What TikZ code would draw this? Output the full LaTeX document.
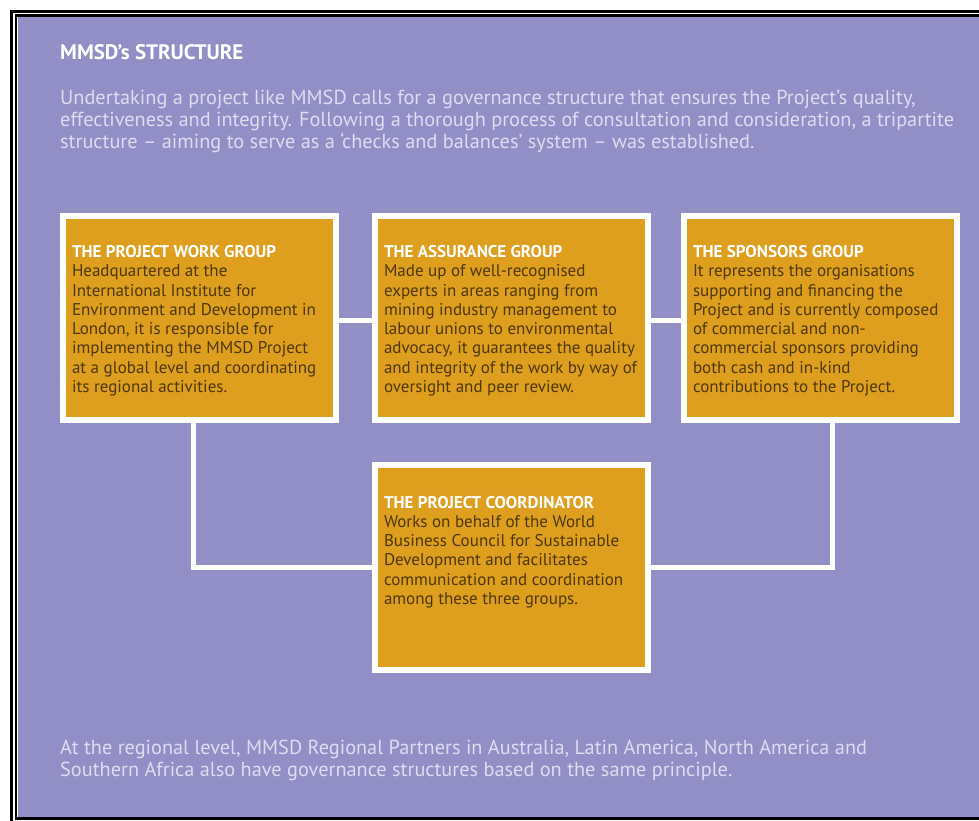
\documentclass[tikz,border=0pt]{standalone}
\usepackage{fontspec}
\setmainfont{PT Sans}
\usetikzlibrary{positioning}

\definecolor{bgpurple}{RGB}{145,143,197}
\definecolor{boxorange}{RGB}{222,158,30}
\definecolor{bodybrown}{RGB}{78,58,12}
\definecolor{introgrey}{RGB}{221,220,240}

\begin{document}
\begin{tikzpicture}[x=1pt,y=-1pt,
  group box/.style={draw=white,line width=6pt,fill=boxorange,minimum width=273pt,minimum height=204pt,inner sep=0pt},
  group text/.style={anchor=base west,align=left,inner sep=0pt,outer sep=0pt,text=bodybrown,font=\fontsize{17}{19.3}\selectfont},
  intro text/.style={anchor=base west,align=left,inner sep=0pt,text=introgrey,font=\fontsize{20.3}{22}\selectfont},
  link/.style={draw=white,line width=5pt}]

  \useasboundingbox (0,0) rectangle (979,820);
  \fill[white] (0,0) rectangle (979,820);
  \draw[line width=3pt] (11.5,11.5) rectangle (1000,840);
  \draw[line width=2.5pt] (16.2,15.7) rectangle (995,818.5);
  \fill[bgpurple] (17.5,17) rectangle (990,817);

  \node[anchor=base west,inner sep=0pt,text=white,font=\bfseries\fontsize{21}{24}\selectfont] (title) at (60,59) {MMSD’s STRUCTURE};
  % multi-line texts: base is the last line
  \node[intro text] (intro) at (60,148) {Undertaking a project like MMSD calls for a governance structure that ensures the Project’s quality,\\effectiveness and integrity. Following a thorough process of consultation and consideration, a tripartite\\structure – aiming to serve as a ‘checks and balances’ system – was established.};

  \node[group box] (work) at (199.5,318) {};
  \node[group box,right=33pt of work] (assurance) {};
  \node[group box,right=30pt of assurance] (sponsors) {};
  \node[group box,below=39pt of assurance,minimum height=205pt] (coord) {};

  \node[group text] (work text) at ([xshift=12pt,yshift=-179.5pt]work.north west) {\textcolor{white}{\textbf{THE PROJECT WORK GROUP}}\\Headquartered at the\\International Institute for\\Environment and Development in\\London, it is responsible for\\implementing the MMSD Project\\at a global level and coordinating\\its regional activities.};
  \node[group text] (assurance text) at ([xshift=12pt,yshift=-179.5pt]assurance.north west) {\textcolor{white}{\textbf{THE ASSURANCE GROUP}}\\Made up of well-recognised\\experts in areas ranging from\\mining industry management to\\labour unions to environmental\\advocacy, it guarantees the quality\\and integrity of the work by way of\\oversight and peer review.};
  \node[group text] (sponsors text) at ([xshift=12pt,yshift=-179.5pt]sponsors.north west) {\textcolor{white}{\textbf{THE SPONSORS GROUP}}\\It represents the organisations\\supporting and financing the\\Project and is currently composed\\of commercial and non-\\commercial sponsors providing\\both cash and in-kind\\contributions to the Project.};
  \node[group text] (coord text) at ([xshift=12pt,yshift=-142.5pt]coord.north west) {\textcolor{white}{\textbf{THE PROJECT COORDINATOR}}\\Works on behalf of the World\\Business Council for Sustainable\\Development and facilitates\\communication and coordination\\among these three groups.};

  \node[intro text] (regional) at (60,776.5) {At the regional level, MMSD Regional Partners in Australia, Latin America, North America and\\Southern Africa also have governance structures based on the same principle.};

  % links between the groups
  \path[link]
    ([yshift=-2pt]work.east) edge ([yshift=-2pt]assurance.west)
    ([yshift=-2pt]assurance.east) edge ([yshift=-2pt]sponsors.west);
  \draw[link] ([xshift=-6.5pt]work.south) |- (coord.west);
  \draw[link] ([xshift=12pt]sponsors.south) |- (coord.east);

\end{tikzpicture}
\end{document}
